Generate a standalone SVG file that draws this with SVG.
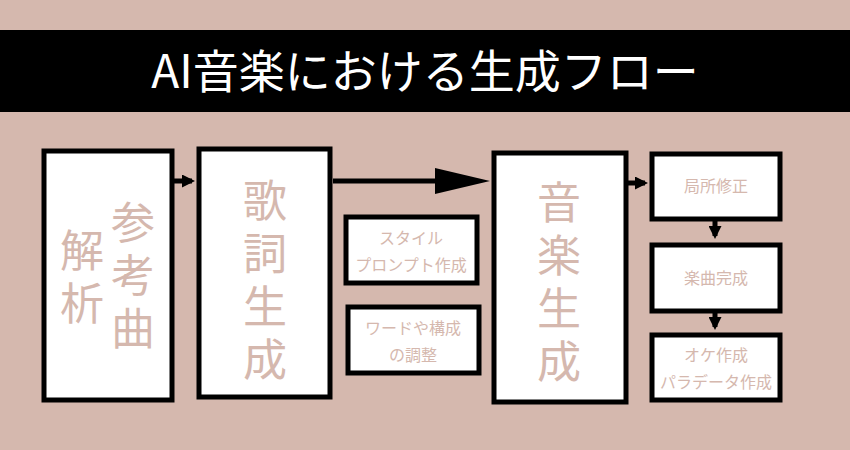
<svg xmlns="http://www.w3.org/2000/svg" width="850" height="450" viewBox="0 0 850 450">
<style>
.box{fill:#fff;stroke:#000;stroke-width:5}
.t{font-family:"Noto Sans CJK JP","Noto Sans",sans-serif;fill:#d5b8ae;text-anchor:middle}
.big{font-size:44px;writing-mode:vertical-rl;text-anchor:start;letter-spacing:9px}
.sm{font-size:16px}
</style>
<defs>
<marker id="a" markerWidth="2.6" markerHeight="2.6" refX="2" refY="1.3" orient="auto" markerUnits="strokeWidth"><path d="M0,0L2.6,1.3L0,2.6z" fill="#000"/></marker>
</defs>
<rect width="850" height="450" fill="#d5b8ae"/>
<rect x="0" y="30" width="850" height="82" fill="#000"/>
<text x="425" y="88" font-family="'Noto Sans CJK JP',sans-serif" font-size="46" fill="#fff" text-anchor="middle">AI音楽における生成フロー</text>
<g id="connectors" stroke="#000" stroke-width="5" fill="none">
<path d="M172,181H192" marker-end="url(#a)"/>
<path d="M333,181H436"/>
<path d="M435,168L490,181L435,194z" fill="#000" stroke="none"/>
<path d="M628,183H645" marker-end="url(#a)"/>
<path d="M715,219V236" marker-end="url(#a)"/>
<path d="M715,312V327" marker-end="url(#a)"/>
</g>
<g id="n1"><rect class="box" x="44" y="151" width="128" height="249"/>
<text class="t big" x="133" y="200">参考曲</text>
<text class="t big" x="82" y="228">解析</text></g>
<g id="n2"><rect class="box" x="199" y="149" width="131" height="248"/>
<text class="t big" x="265" y="178">歌詞生成</text></g>
<g id="n3"><rect class="box" x="346" y="217" width="131" height="66"/>
<text class="t sm" x="411" y="244">スタイル</text><text class="t sm" x="411" y="271">プロンプト作成</text></g>
<g id="n4"><rect class="box" x="348" y="307" width="131" height="66"/>
<text class="t sm" x="413" y="334">ワードや構成</text><text class="t sm" x="413" y="361">の調整</text></g>
<g id="n5"><rect class="box" x="494" y="153" width="132" height="249"/>
<text class="t big" x="559" y="180">音楽生成</text></g>
<g id="n6"><rect class="box" x="652" y="154" width="128" height="65"/>
<text class="t sm" x="716" y="192">局所修正</text></g>
<g id="n7"><rect class="box" x="652" y="245" width="128" height="66"/>
<text class="t sm" x="716" y="284">楽曲完成</text></g>
<g id="n8"><rect class="box" x="652" y="335" width="128" height="65"/>
<text class="t sm" x="716" y="361">オケ作成</text><text class="t sm" x="716" y="388">パラデータ作成</text></g>
</svg>
